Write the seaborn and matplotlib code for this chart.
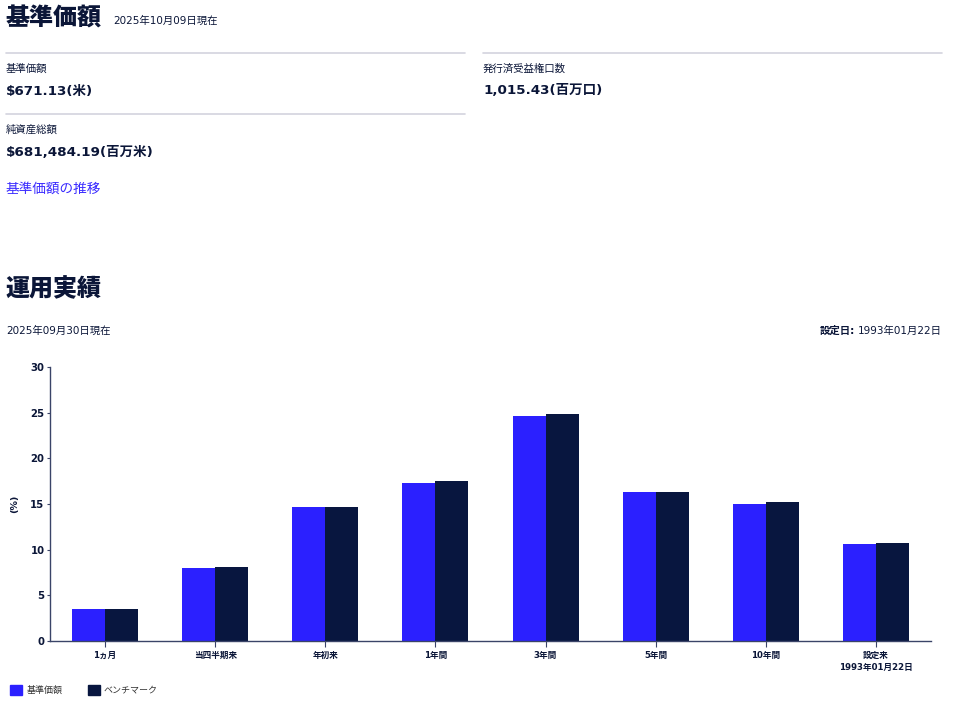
import matplotlib
matplotlib.use("Agg")
import matplotlib.pyplot as plt
import seaborn as sns
import pandas as pd
from matplotlib.lines import Line2D
from matplotlib.patches import Rectangle

# ---- data ----
categories = ['1ヵ月', '当四半期来', '年初来', '1年間', '3年間', '5年間', '10年間', '設定来\n1993年01月22日']
fund = [3.50, 7.99, 14.63, 17.30, 24.63, 16.28, 15.00, 10.58]
bench = [3.50, 8.10, 14.67, 17.52, 24.82, 16.31, 15.18, 10.73]
series_names = ['基準価額', 'ベンチマーク']
yticks = [0, 5, 10, 15, 20, 25, 30]

# ---- style ----
sns.set_theme(style="white")
FONTS = ['DejaVu Sans', 'Noto Sans CJK JP']
plt.rcParams['font.family'] = FONTS

C_FUND = '#2B20FF'
C_BENCH = '#08163F'
C_TEXT = '#0B1638'
C_LINE = '#D3D3DE'

W, H = 968, 703
fig = plt.figure(figsize=(W / 100, H / 100), dpi=100)


def fx(x):
    return x / W


def fy(y):
    return 1 - y / H


def txt(x, y, s, size, weight='normal', color=C_TEXT, ha='left', va='center', family=None):
    fig.text(fx(x), fy(y), s, fontsize=size, fontweight=weight, color=color,
             ha=ha, va=va, family=family or FONTS)


def hline(x0, x1, y):
    fig.add_artist(Line2D([fx(x0), fx(x1)], [fy(y), fy(y)], color=C_LINE, lw=1.2,
                          transform=fig.transFigure))


# ---- header section ----
txt(6, 18, '基準価額', 17.3, 'heavy', family=['Noto Sans CJK JP'])
txt(113, 21, '2025年10月09日現在', 7.5, family=['DejaVu Sans', 'Noto Sans CJK JP'])
hline(6, 465, 53)
hline(483, 942, 53)
txt(6, 69, '基準価額', 7.5, family=['Noto Sans CJK JP'])
txt(6, 91, '$671.13(米)', 9.7, 'bold')
txt(483, 69, '発行済受益権口数', 7.5, family=['Noto Sans CJK JP'])
txt(483, 91, '1,015.43(百万口)', 9.7, 'bold')
hline(6, 465, 114)
txt(6, 130, '純資産総額', 7.5, family=['Noto Sans CJK JP'])
txt(6, 152, '$681,484.19(百万米)', 9.7, 'bold')
txt(6, 189, '基準価額の推移', 9.8, color='#3A2BFF', family=['Noto Sans CJK JP'])

txt(6, 289, '運用実績', 17.3, 'heavy', family=['Noto Sans CJK JP'])
txt(6, 331, '2025年09月30日現在', 7.5, family=['DejaVu Sans', 'Noto Sans CJK JP'])
fig.text(fx(942), fy(331), '1993年01月22日', fontsize=7.5, color=C_TEXT, ha='right', va='center',
         family=FONTS)
fig.text(fx(855), fy(331), '設定日:', fontsize=7.5, color=C_TEXT, ha='right', va='center',
         fontweight='bold', family=FONTS)

# ---- chart ----
df = pd.DataFrame({
    'category': categories * 2,
    'value': fund + bench,
    'series': [series_names[0]] * len(categories) + [series_names[1]] * len(categories),
})

ax = fig.add_axes([fx(50), fy(641), (931 - 50) / W, (641 - 367) / H])
sns.barplot(data=df, x='category', y='value', hue='series', order=categories,
            hue_order=series_names, palette=[C_FUND, C_BENCH], width=0.6,
            saturation=1, ax=ax, legend=False, edgecolor='none', linewidth=0)

ax.set_xlim(-0.5, len(categories) - 0.5)
ax.set_ylim(0, 30)
ax.set_yticks(yticks)
ax.set_yticklabels([str(t) for t in yticks], fontsize=7.3, fontweight='bold', color=C_TEXT)
ax.set_xticks(range(len(categories)))
ax.set_xticklabels(categories, fontsize=6.2, fontweight='bold', color=C_TEXT,
                   family=['DejaVu Sans', 'Noto Sans CJK JP'], linespacing=1.4)
ax.set_xlabel('')
ax.set_ylabel('(%)', fontsize=6.8, fontweight='bold', color=C_TEXT, labelpad=8)

for side in ['top', 'right']:
    ax.spines[side].set_visible(False)
for side in ['left', 'bottom']:
    ax.spines[side].set_color('#3A4468')
    ax.spines[side].set_linewidth(1.0)
ax.tick_params(axis='x', which='major', length=4, width=0.8, color='#3A4468',
               direction='out', bottom=True, pad=3)
ax.tick_params(axis='y', which='major', length=2, width=0.8, color='#3A4468',
               direction='out', left=True, pad=2)
ax.grid(False)
ax.set_facecolor('white')

# ---- legend ----
fig.add_artist(Rectangle((fx(10), fy(695)), 12 / W, 10 / H, color=C_FUND,
                         transform=fig.transFigure))
txt(27, 690, series_names[0], 6.5, color='#333333', family=['Noto Sans CJK JP'])
fig.add_artist(Rectangle((fx(88), fy(695)), 12 / W, 10 / H, color=C_BENCH,
                         transform=fig.transFigure))
txt(104, 690, series_names[1], 6.5, color='#333333', family=['Noto Sans CJK JP'])

fig.savefig('out.png', dpi=100, facecolor='white')
